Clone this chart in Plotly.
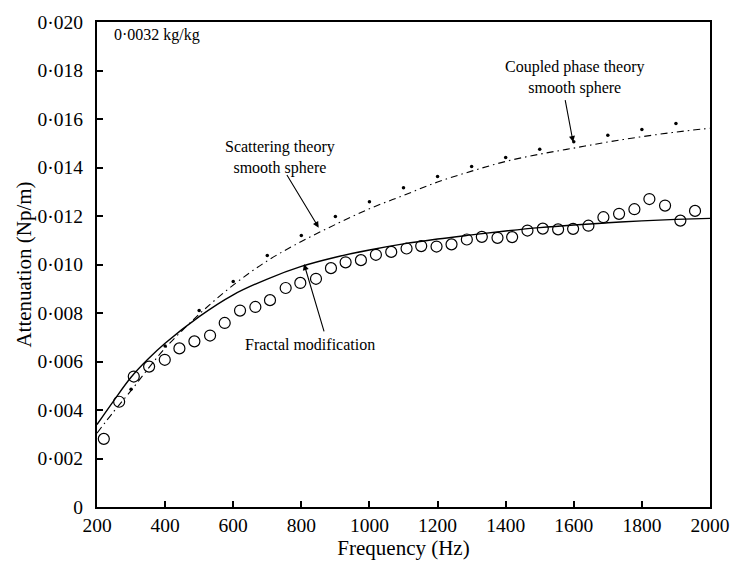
import plotly.graph_objects as go

# Measured attenuation (open circles)
meas_f = [220, 265, 308, 353, 399, 442, 486, 532, 575, 620, 665, 708, 754, 797,
          843, 887, 930, 975, 1019, 1064, 1109, 1152, 1197, 1241, 1286, 1330, 1376, 1419,
          1464, 1509, 1554, 1598, 1643, 1687, 1733, 1778, 1822, 1868, 1913, 1956]
meas_a = [2.81, 4.34, 5.38, 5.79, 6.07, 6.54, 6.83, 7.07, 7.59, 8.10, 8.25, 8.53, 9.03, 9.24,
          9.41, 9.85, 10.09, 10.18, 10.40, 10.52, 10.66, 10.76, 10.74, 10.83, 11.03, 11.14, 11.10, 11.13,
          11.40, 11.48, 11.45, 11.47, 11.60, 11.95, 12.09, 12.28, 12.70, 12.43, 11.81, 12.21]

# Coupled phase theory, smooth sphere (dots)
cp_f = [300, 400, 500, 600, 700, 800, 900, 1000, 1100, 1200, 1300, 1400, 1500, 1600, 1700, 1800, 1900]
cp_a = [4.86, 6.64, 8.10, 9.30, 10.37, 11.20, 11.98, 12.59, 13.16, 13.63, 14.04, 14.41, 14.75, 15.06,
        15.33, 15.57, 15.81]

# Scattering theory, smooth sphere (dash-dot line)
sc_f = [200, 250, 300, 350, 400, 500, 600, 700, 800, 900, 1000, 1100, 1200, 1300, 1400, 1500,
        1600, 1700, 1800, 1900, 2000]
sc_a = [3.05, 3.95, 4.80, 5.70, 6.55, 7.95, 9.15, 10.15, 10.95, 11.65, 12.30, 12.85, 13.40, 13.85,
        14.25, 14.55, 14.80, 15.05, 15.27, 15.46, 15.62]

# Fractal modification (solid line)
fr_f = [200, 250, 300, 350, 400, 500, 600, 700, 800, 900, 1000, 1100, 1200, 1300, 1400, 1500,
        1600, 1700, 1800, 1900, 2000]
fr_a = [3.40, 4.40, 5.35, 6.10, 6.75, 7.85, 8.75, 9.40, 9.92, 10.30, 10.60, 10.85, 11.05, 11.22,
        11.38, 11.52, 11.63, 11.72, 11.80, 11.86, 11.90]

y_ticks = [0, 0.002, 0.004, 0.006, 0.008, 0.010, 0.012, 0.014, 0.016, 0.018, 0.020]
y_tick_text = ["0", "0·002", "0·004", "0·006", "0·008", "0·010", "0·012", "0·014",
               "0·016", "0·018", "0·020"]
x_ticks = [200, 400, 600, 800, 1000, 1200, 1400, 1600, 1800, 2000]

def s(v):
    return [a / 1000.0 for a in v]

FONT = "Liberation Serif, Times New Roman, serif"

fig = go.Figure()
fig.add_trace(go.Scatter(x=fr_f, y=s(fr_a), mode="lines", line=dict(color="black", width=1.4,
                         shape="spline"), showlegend=False))
fig.add_trace(go.Scatter(x=sc_f, y=s(sc_a), mode="lines",
                         line=dict(color="black", width=1.1, dash="7px,4px,1.5px,4px", shape="spline"),
                         showlegend=False))
fig.add_trace(go.Scatter(x=cp_f, y=s(cp_a), mode="markers",
                         marker=dict(color="black", size=3.5, symbol="circle"), showlegend=False))
fig.add_trace(go.Scatter(x=meas_f, y=s(meas_a), mode="markers",
                         marker=dict(symbol="circle-open", size=11, color="black",
                                     line=dict(width=1.2, color="black")), showlegend=False))

ann_font = dict(family=FONT, size=16, color="black")
fig.add_annotation(x=243, y=0.01947, text="0·0032 kg/kg", showarrow=False, xanchor="left",
                   font=ann_font)
fig.add_annotation(x=738, y=0.01440, text="Scattering theory<br>smooth sphere", showarrow=False,
                   font=ann_font, align="center")
fig.add_annotation(x=851, y=0.01152, ax=755, ay=0.01375, axref="x", ayref="y", text="",
                   showarrow=True, arrowhead=2, arrowsize=1.1, arrowwidth=1.1, arrowcolor="black")
fig.add_annotation(x=1605, y=0.0177, text="Coupled phase theory<br>smooth sphere", showarrow=False,
                   font=ann_font, align="center")
fig.add_annotation(x=1598, y=0.01505, ax=1574, ay=0.01684, axref="x", ayref="y", text="",
                   showarrow=True, arrowhead=2, arrowsize=1.1, arrowwidth=1.1, arrowcolor="black")
fig.add_annotation(x=825, y=0.00669, text="Fractal modification", showarrow=False,
                   font=ann_font, align="center")
fig.add_annotation(x=808, y=0.01002, ax=868, ay=0.00718, axref="x", ayref="y", text="",
                   showarrow=True, arrowhead=2, arrowsize=1.1, arrowwidth=1.1, arrowcolor="black")

fig.update_xaxes(range=[200, 2000], tickvals=x_ticks, ticks="inside", ticklen=6, tickwidth=2,
                 tickcolor="black", showline=True, linecolor="black", linewidth=2, mirror=True,
                 showgrid=False, zeroline=False,
                 tickfont=dict(family=FONT, size=19.5, color="black"),
                 title=dict(text="Frequency (Hz)", font=dict(family=FONT, size=21, color="black"),
                            standoff=2))
fig.update_yaxes(range=[0, 0.020], tickvals=y_ticks, ticktext=y_tick_text, ticks="inside",
                 ticklen=6, tickwidth=2, tickcolor="black", showline=True, linecolor="black",
                 linewidth=2, mirror=True, showgrid=False, zeroline=False, ticklabelstandoff=8,
                 tickfont=dict(family=FONT, size=19.5, color="black"),
                 title=dict(text="Attenuation (Np/m)", font=dict(family=FONT, size=21, color="black"),
                            standoff=0))
fig.update_layout(width=742, height=565, margin=dict(l=97, r=23, t=14, b=58),
                  paper_bgcolor="white", plot_bgcolor="white", showlegend=False)

fig.write_html("out.html")
